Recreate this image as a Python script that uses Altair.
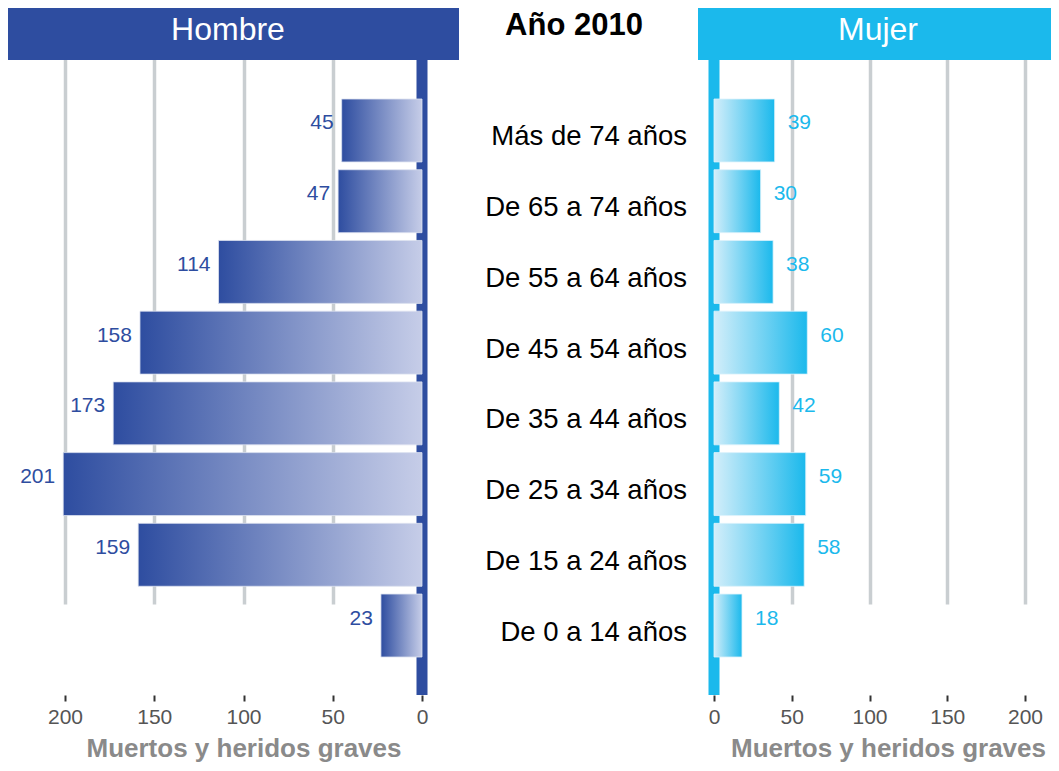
import altair as alt
import pandas as pd

ages = ["Más de 74 años", "De 65 a 74 años", "De 55 a 64 años", "De 45 a 54 años",
        "De 35 a 44 años", "De 25 a 34 años", "De 15 a 24 años", "De 0 a 14 años"]
hombre = [45, 47, 114, 158, 173, 201, 159, 23]
mujer = [39, 30, 38, 60, 42, 59, 58, 18]
ticks = [0, 50, 100, 150, 200]

FONT = "Liberation Sans"
BLUE = "#2E4DA0"
CYAN = "#1BB9EC"

df_h = pd.DataFrame({"age": ages, "value": hombre})
df_m = pd.DataFrame({"age": ages, "value": mujer})
df_age = pd.DataFrame({"age": ages})
one = pd.DataFrame({"t": ["x"]})

yscale = alt.Scale(domain=ages, range=[91, 649], paddingInner=0.11, paddingOuter=0)
ysc = alt.Y("age:N", sort=ages, scale=yscale, axis=None)

lscale = alt.Scale(domain=[0, 200], range=[414, 57], nice=False, zero=True)
rscale = alt.Scale(domain=[0, 200], range=[706, 1017], nice=False, zero=True)

def make_axis(title_pad, title_x=None):
    kw = dict(values=ticks, orient="bottom", domain=False, grid=True,
              gridColor="#C9CED1", gridWidth=3.5, ticks=True, tickColor="#333333",
              tickSize=6, tickWidth=2, labelFontSize=21, labelColor="#555555",
              labelFont=FONT, labelPadding=5, labelFlush=False, labelOverlap=False,
              title="Muertos y heridos graves",
              titleFontSize=26, titleFontWeight="bold", titleColor="#8A8A8A",
              titleFont=FONT, titlePadding=title_pad)
    if title_x is not None:
        kw["titleX"] = title_x
    return alt.Axis(**kw)

# Left (Hombre)
l_rule = alt.Chart(one).mark_rule(color=BLUE, strokeWidth=11).encode(
    x=alt.X("z:Q", scale=lscale, axis=make_axis(8)),
    y=alt.value(52), y2=alt.value(687)
).transform_calculate(z="0")
l_bars = alt.Chart(df_h).mark_bar(
    color=alt.Gradient(gradient="linear",
                       stops=[alt.GradientStop(color=BLUE, offset=0),
                              alt.GradientStop(color="#C6CDE8", offset=1)],
                       x1=0, x2=1, y1=0, y2=0),
    stroke="#DDE2F0", strokeWidth=0.8
).encode(x=alt.X("value:Q", scale=lscale), y=ysc)
l_text = alt.Chart(df_h).mark_text(align="right", baseline="middle", dx=-8, dy=-7,
                                   fontSize=21, font=FONT, color=BLUE).encode(
    x=alt.X("value:Q", scale=lscale), y=ysc, text="value:Q")
left = alt.layer(l_rule, l_bars, l_text)

# Right (Mujer)
r_rule = alt.Chart(one).mark_rule(color=CYAN, strokeWidth=11).encode(
    x=alt.X("z:Q", scale=rscale, axis=make_axis(8, 880)),
    y=alt.value(52), y2=alt.value(687)
).transform_calculate(z="0")
r_bars = alt.Chart(df_m).mark_bar(
    color=alt.Gradient(gradient="linear",
                       stops=[alt.GradientStop(color="#D3EEFA", offset=0),
                              alt.GradientStop(color=CYAN, offset=1)],
                       x1=0, x2=1, y1=0, y2=0),
    stroke="#DDF2FB", strokeWidth=0.8
).encode(x=alt.X("value:Q", scale=rscale), y=ysc)
r_text = alt.Chart(df_m).mark_text(align="left", baseline="middle", dx=13, dy=-7,
                                   fontSize=21, font=FONT, color=CYAN).encode(
    x=alt.X("value:Q", scale=rscale), y=ysc, text="value:Q")
right = alt.layer(r_rule, r_bars, r_text)

# Decorations
h_rect = alt.Chart(one).mark_rect(color=BLUE).encode(
    x=alt.value(0), x2=alt.value(451), y=alt.value(0), y2=alt.value(52))
m_rect = alt.Chart(one).mark_rect(color=CYAN).encode(
    x=alt.value(690), x2=alt.value(1043), y=alt.value(0), y2=alt.value(52))
h_lab = alt.Chart(pd.DataFrame({"t": ["Hombre"]})).mark_text(
    fontSize=32, font=FONT, color="white", baseline="middle").encode(
    x=alt.value(220), y=alt.value(22), text="t:N")
m_lab = alt.Chart(pd.DataFrame({"t": ["Mujer"]})).mark_text(
    fontSize=32, font=FONT, color="white", baseline="middle").encode(
    x=alt.value(870), y=alt.value(22), text="t:N")
title = alt.Chart(pd.DataFrame({"t": ["Año 2010"]})).mark_text(
    fontSize=31, font=FONT, fontWeight="bold", color="black", baseline="middle").encode(
    x=alt.value(566), y=alt.value(18), text="t:N")
cats = alt.Chart(df_age).mark_text(align="right", baseline="middle", dy=7,
                                   fontSize=27.5, font=FONT, color="black").encode(
    x=alt.value(679), y=ysc, text="age:N")

chart = alt.layer(left, right, h_rect, m_rect, h_lab, m_lab, title, cats).resolve_scale(
    x="independent"
).properties(
    width=1043, height=687,
    autosize=alt.AutoSizeParams(type="none"),
    padding={"left": 0, "top": 0, "right": 0, "bottom": 68}
).configure_view(stroke=None)

chart.save("out.html", embed_options={"renderer": "svg", "actions": False})
